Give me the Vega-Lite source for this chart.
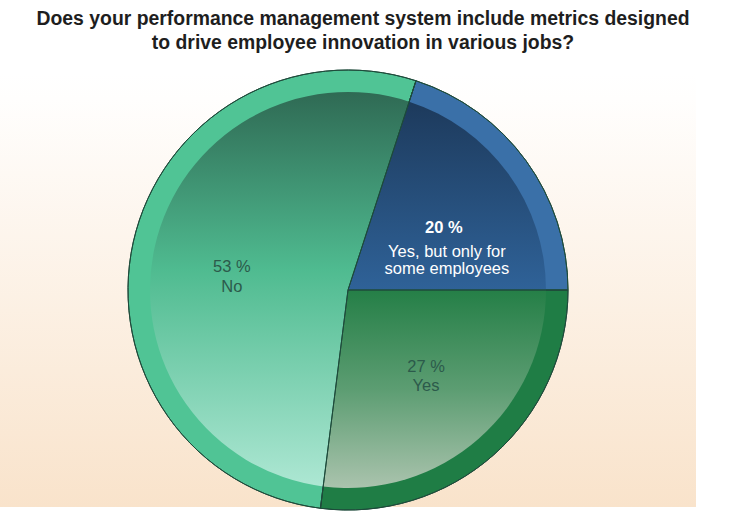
{
  "$schema": "https://vega.github.io/schema/vega-lite/v6.json",
  "width": 696,
  "height": 434,
  "autosize": {"type": "none"},
  "padding": {"top": 73, "left": 0, "right": 33, "bottom": 9},
  "background": "white",
  "title": {
    "text": ["Does your performance management system include metrics designed", "to drive employee innovation in various jobs?"],
    "font": "Liberation Sans",
    "fontSize": 19.4,
    "fontWeight": "bold",
    "color": "#1e1e1e",
    "anchor": "middle",
    "dx": 15,
    "offset": 15,
    "lineHeight": 24
  },
  "config": {
    "view": {"stroke": null},
    "text": {"font": "Liberation Sans", "fontSize": 16.5, "lineBreak": "\n", "align": "center", "baseline": "middle"}
  },
  "data": {
    "values": [
      {"answer": "Yes", "value": 27, "ord": 1, "pct": "27 %"},
      {"answer": "No", "value": 53, "ord": 2, "pct": "53 %"},
      {"answer": "Yes, but only for\nsome employees", "value": 20, "ord": 3, "pct": "20 %"}
    ]
  },
  "transform": [
    {"stack": "value", "groupby": [], "sort": [{"field": "ord", "order": "ascending"}], "as": ["v0", "v1"]}
  ],
  "layer": [
    {
      "transform": [{"filter": "datum.ord == 1"}],
      "mark": {"type": "rect",
        "fill": {"gradient": "linear", "x1": 0, "y1": 0, "x2": 0, "y2": 1,
          "stops": [{"offset": 0, "color": "#ffffff"}, {"offset": 0.06, "color": "#fffefd"}, {"offset": 1, "color": "#f9e3cb"}]}},
      "encoding": {}
    },
    {
      "mark": {"type": "arc", "outerRadius": 220, "stroke": "#1e4b3b", "strokeWidth": 1},
      "encoding": {
        "theta": {"field": "v0", "type": "quantitative", "stack": null, "scale": {"domain": [0, 100], "range": [1.5708, 7.854]}},
        "theta2": {"field": "v1"},
        "color": {"field": "answer", "type": "nominal", "legend": null,
          "scale": {"domain": ["Yes", "No", "Yes, but only for\nsome employees"], "range": ["#1f7d45", "#50c495", "#3a70a8"]}}
      }
    },
    {
      "transform": [{"filter": "datum.ord == 1"}],
      "mark": {"type": "arc", "outerRadius": 198,
        "fill": {"gradient": "linear", "x1": 0, "y1": 0, "x2": 0, "y2": 1,
          "stops": [{"offset": 0, "color": "#257f47"}, {"offset": 0.5, "color": "#5c9d72"}, {"offset": 1, "color": "#aac3ad"}]}},
      "encoding": {
        "theta": {"field": "v0", "type": "quantitative", "stack": null, "scale": {"domain": [0, 100], "range": [1.5708, 7.854]}},
        "theta2": {"field": "v1"}
      }
    },
    {
      "transform": [{"filter": "datum.ord == 2"}],
      "mark": {"type": "arc", "outerRadius": 198,
        "fill": {"gradient": "linear", "x1": 0, "y1": 0, "x2": 0, "y2": 1,
          "stops": [{"offset": 0, "color": "#2f6a54"}, {"offset": 0.45, "color": "#4fbb90"}, {"offset": 1, "color": "#ade7d3"}]}},
      "encoding": {
        "theta": {"field": "v0", "type": "quantitative", "stack": null, "scale": {"domain": [0, 100], "range": [1.5708, 7.854]}},
        "theta2": {"field": "v1"}
      }
    },
    {
      "transform": [{"filter": "datum.ord == 3"}],
      "mark": {"type": "arc", "outerRadius": 198,
        "fill": {"gradient": "linear", "x1": 0, "y1": 0, "x2": 0, "y2": 1,
          "stops": [{"offset": 0, "color": "#1d3a5c"}, {"offset": 1, "color": "#2f6298"}]}},
      "encoding": {
        "theta": {"field": "v0", "type": "quantitative", "stack": null, "scale": {"domain": [0, 100], "range": [1.5708, 7.854]}},
        "theta2": {"field": "v1"}
      }
    },
    {
      "mark": {"type": "arc", "outerRadius": 220, "fillOpacity": 0, "stroke": "#1e4b3b", "strokeWidth": 1},
      "encoding": {
        "theta": {"field": "v0", "type": "quantitative", "stack": null, "scale": {"domain": [0, 100], "range": [1.5708, 7.854]}},
        "theta2": {"field": "v1"}
      }
    },
    {
      "mark": {"type": "text", "radius": 119, "dy": 3, "fill": "#2c5a4b"},
      "encoding": {
        "theta": {"field": "value", "type": "quantitative", "stack": true, "scale": {"domain": [0, 100], "range": [1.5708, 7.854]}},
        "order": {"field": "ord"},
        "text": {"condition": {"test": "datum.ord == 2", "field": "pct"}, "value": ""}
      }
    },
    {
      "mark": {"type": "text", "radius": 119, "dy": 23, "fill": "#2c5a4b"},
      "encoding": {
        "theta": {"field": "value", "type": "quantitative", "stack": true, "scale": {"domain": [0, 100], "range": [1.5708, 7.854]}},
        "order": {"field": "ord"},
        "text": {"condition": {"test": "datum.ord == 2", "field": "answer"}, "value": ""}
      }
    },
    {
      "mark": {"type": "text", "radius": 118, "dy": -12, "fill": "#2c5a4b"},
      "encoding": {
        "theta": {"field": "value", "type": "quantitative", "stack": true, "scale": {"domain": [0, 100], "range": [1.5708, 7.854]}},
        "order": {"field": "ord"},
        "text": {"condition": {"test": "datum.ord == 1", "field": "pct"}, "value": ""}
      }
    },
    {
      "mark": {"type": "text", "radius": 118, "dy": 7, "fill": "#2c5a4b"},
      "encoding": {
        "theta": {"field": "value", "type": "quantitative", "stack": true, "scale": {"domain": [0, 100], "range": [1.5708, 7.854]}},
        "order": {"field": "ord"},
        "text": {"condition": {"test": "datum.ord == 1", "field": "answer"}, "value": ""}
      }
    },
    {
      "mark": {"type": "text", "radius": 100, "dx": 15, "dy": -3, "fill": "#ffffff", "fontWeight": "bold"},
      "encoding": {
        "theta": {"field": "value", "type": "quantitative", "stack": true, "scale": {"domain": [0, 100], "range": [1.5708, 7.854]}},
        "order": {"field": "ord"},
        "text": {"condition": {"test": "datum.ord == 3", "field": "pct"}, "value": ""}
      }
    },
    {
      "mark": {"type": "text", "radius": 100, "dx": 18, "dy": 21, "fill": "#ffffff", "lineHeight": 17},
      "encoding": {
        "theta": {"field": "value", "type": "quantitative", "stack": true, "scale": {"domain": [0, 100], "range": [1.5708, 7.854]}},
        "order": {"field": "ord"},
        "text": {"condition": {"test": "datum.ord == 3", "field": "answer"}, "value": ""}
      }
    }
  ]
}
